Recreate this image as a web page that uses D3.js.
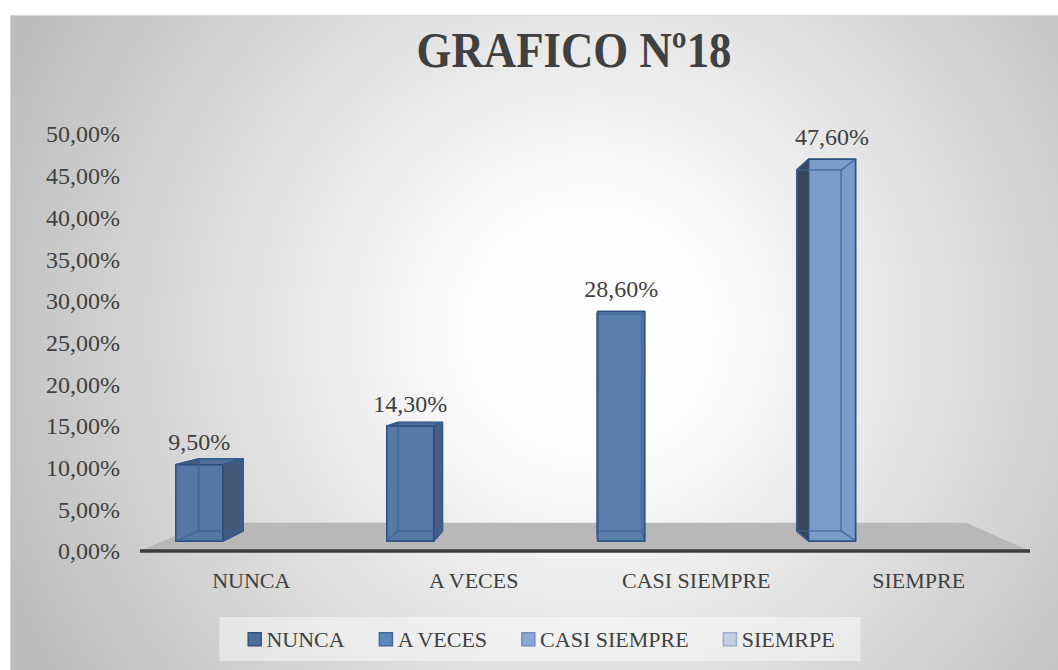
<!DOCTYPE html>
<html>
<head>
<meta charset="utf-8">
<script src="https://cdn.jsdelivr.net/npm/d3@7"></script>
<style>
  body { margin: 0; background: #fff; }
  svg { display: block; }
  text { font-family: "Liberation Serif", "DejaVu Serif", serif; fill: #404040; }
</style>
</head>
<body>
<div id="chart"></div>
<script>
const width = 1058;
const height = 670;

// data
const categories = ["NUNCA", "A VECES", "CASI SIEMPRE", "SIEMPRE"];
const values = [0.095, 0.143, 0.286, 0.476];
const yTicks = [0, 0.05, 0.10, 0.15, 0.20, 0.25, 0.30, 0.35, 0.40, 0.45, 0.50];
const legendNames = ["NUNCA", "A VECES", "CASI SIEMPRE", "SIEMRPE"];

// colours
const frontColors = ["#5577a4", "#5679a8", "#5b7fac", "#799cc9"];
const sideColors = ["#46597b", "#475e84", "#4b6590", "#3b4759"];
const topColors = ["#4f6e9a", "#5072a0", "#5579a8", "#6f93c2"];
const legendColors = ["#4e6f9c", "#5b86bc", "#8ba8d3", "#c3cfe3"];
const legendStrokes = ["#35557f", "#3f679c", "#6f8fc0", "#9aaed0"];

const es = d3.formatLocale({ decimal: ",", thousands: ".", grouping: [3], currency: ["", "€"] });
const pct = es.format(".2%");

const svg = d3.select("#chart")
  .append("svg")
  .attr("width", width)
  .attr("height", height);

// background gradient
const defs = svg.append("defs");
const grad = defs.append("radialGradient")
  .attr("id", "bg")
  .attr("gradientUnits", "userSpaceOnUse")
  .attr("cx", 590).attr("cy", 330).attr("r", 640);
grad.append("stop").attr("offset", "0").attr("stop-color", "#ffffff");
grad.append("stop").attr("offset", "0.2").attr("stop-color", "#fdfdfd");
grad.append("stop").attr("offset", "1").attr("stop-color", "#bcbcbc");

svg.append("rect")
  .attr("x", 10.5).attr("y", 15.5)
  .attr("width", 1060).attr("height", 670)
  .attr("fill", "url(#bg)")
  .attr("stroke", "#d4d4d4");

// title
svg.append("text")
  .attr("x", 574)
  .attr("y", 67)
  .attr("text-anchor", "middle")
  .attr("font-size", 50)
  .attr("font-weight", "bold")
  .attr("textLength", 315)
  .attr("lengthAdjust", "spacingAndGlyphs")
  .text("GRAFICO Nº18");

// scales
const x = d3.scaleBand()
  .domain(categories)
  .range([140, 1030]);

const y = d3.scaleLinear()
  .domain([0, 0.5])
  .range([551, 134]);

// bars sit a little deeper in the 3D box, so their value scale is slightly taller
const yBar = d3.scaleLinear()
  .domain([0, 0.5])
  .range([y(0), y(0) - 423]);

// simple perspective towards a vanishing point
const vp = [592, 358];
const proj = (px, py, t) => [px + (vp[0] - px) * t, py + (vp[1] - py) * t];
const tFront = 0.052, tBack = 0.104, tFloor = 0.146;
const barShift = 73.5, barHalf = 24.75;

// y tick labels
svg.append("g")
  .selectAll("text")
  .data(yTicks)
  .join("text")
  .attr("x", 120)
  .attr("y", d => y(d))
  .attr("dy", "0.35em")
  .attr("text-anchor", "end")
  .attr("font-size", 24)
  .text(d => pct(d));

// floor
const [x0, x1] = x.range();
const floorPts = [
  proj(x0, y(0), 0), proj(x0, y(0), tFloor),
  proj(x1, y(0), tFloor), proj(x1, y(0), 0)
];
svg.append("polygon")
  .attr("points", floorPts.map(p => p.join(",")).join(" "))
  .attr("fill", "#b8b8b8");

svg.append("line")
  .attr("x1", x0).attr("x2", x1)
  .attr("y1", y(0)).attr("y2", y(0))
  .attr("stroke", "#3c3c3c")
  .attr("stroke-width", 3.5);

// bars
const line = pts => pts.map(p => p.join(",")).join(" ");
const barG = svg.append("g");

categories.forEach((c, i) => {
  const cx = x(c) + x.bandwidth() / 2 - barShift;
  const l = cx - barHalf, r = cx + barHalf;
  const yt = yBar(values[i]), yb = yBar(0);
  const F = [proj(l, yt, tFront), proj(r, yt, tFront), proj(r, yb, tFront), proj(l, yb, tFront)];
  const B = [proj(l, yt, tBack), proj(r, yt, tBack), proj(r, yb, tBack), proj(l, yb, tBack)];

  const g = barG.append("g")
    .attr("stroke", "#2d4f80")
    .attr("stroke-width", 1.5)
    .attr("stroke-linejoin", "round");

  g.append("polygon").attr("points", line(B)).attr("fill", frontColors[i]);
  g.append("polygon").attr("points", line([F[3], F[2], B[2], B[3]])).attr("fill", topColors[i]);
  g.append("polygon").attr("points", line([F[0], F[1], B[1], B[0]])).attr("fill", topColors[i]);
  g.append("polygon").attr("points", line([F[0], B[0], B[3], F[3]])).attr("fill", sideColors[i]);
  g.append("polygon").attr("points", line([F[1], B[1], B[2], F[2]])).attr("fill", sideColors[i]);
  g.append("polygon").attr("points", line(F)).attr("fill", frontColors[i]);

  // edges seen through the translucent faces
  const ghost = barG.append("g")
    .attr("stroke", "#3a6198")
    .attr("stroke-width", 1.5)
    .attr("stroke-opacity", 0.75)
    .attr("fill", "none");
  ghost.append("polygon").attr("points", line(B));
  [0, 1, 2, 3].forEach(k => {
    ghost.append("line")
      .attr("x1", F[k][0]).attr("y1", F[k][1])
      .attr("x2", B[k][0]).attr("y2", B[k][1]);
  });

  // value label
  const top = proj(cx, yt, tFront);
  svg.append("text")
    .attr("x", top[0])
    .attr("y", top[1] - 23)
    .attr("dy", "0.35em")
    .attr("text-anchor", "middle")
    .attr("font-size", 24)
    .text(pct(values[i]).replace(/0%$/, "0%"));
});

// category labels
svg.append("g")
  .selectAll("text")
  .data(categories)
  .join("text")
  .attr("x", d => x(d) + x.bandwidth() / 2)
  .attr("y", 580)
  .attr("dy", "0.35em")
  .attr("text-anchor", "middle")
  .attr("font-size", 22)
  .text(d => d);

// legend
const legend = svg.append("g");
const legendBox = legend.append("rect")
  .attr("fill", "#ffffff")
  .attr("fill-opacity", 0.45);

let lx = 0;
const items = legendNames.map((name, i) => {
  const item = legend.append("g");
  item.append("rect")
    .attr("x", 0.75).attr("y", -6.25)
    .attr("width", 13).attr("height", 13)
    .attr("fill", legendColors[i])
    .attr("stroke", legendStrokes[i])
    .attr("stroke-width", 1.5);
  const t = item.append("text")
    .attr("x", 19)
    .attr("dy", "0.35em")
    .attr("font-size", 22)
    .text(name);
  const w = 19 + t.node().getComputedTextLength();
  item.attr("data-x", lx);
  const pos = lx;
  lx += w + 34;
  return { item, pos, w };
});
const total = lx - 34;
const startX = 541 - total / 2;
items.forEach(d => d.item.attr("transform", `translate(${startX + d.pos},639)`));
legendBox
  .attr("x", startX - 28)
  .attr("y", 617)
  .attr("width", total + 54)
  .attr("height", 44);
</script>
</body>
</html>
